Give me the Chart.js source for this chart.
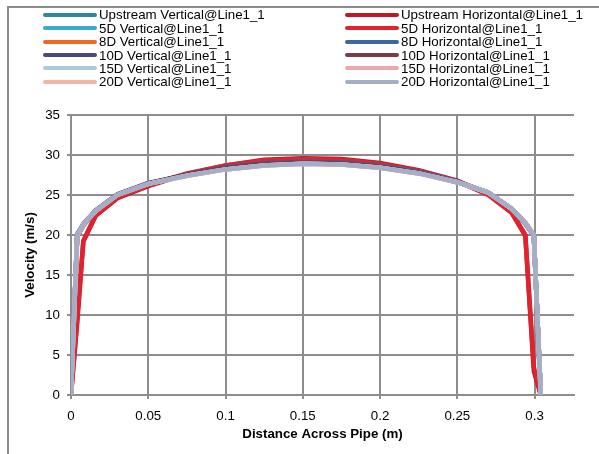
<!DOCTYPE html>
<html>
<head>
<meta charset="utf-8">
<script src="https://cdn.jsdelivr.net/npm/chart.js@4.4.1/dist/chart.umd.min.js"></script>
<style>
  html, body { margin: 0; padding: 0; background: #fff; overflow: hidden; }
  body { width: 599px; height: 454px; position: relative; font-family: Arial, "Liberation Sans", sans-serif; }
  #frame { position: absolute; left: 7px; top: 6px; width: 700px; height: 600px;
           border-top: 2px solid #8c8c8c; border-left: 2px solid #8c8c8c; }
  #chart { position: absolute; left: 0; top: 0; }
  #legend { position: absolute; left: 0; top: 0; width: 599px; height: 100px; }
  .item { position: absolute; height: 13.4px; line-height: 13.4px; font-size: 13.3px; color: #000; white-space: nowrap; }
  .item span.swatch { display: inline-block; width: 54px; height: 4px; border-radius: 2px; vertical-align: middle; margin-right: 2px; position: relative; top: -1px; }
</style>
</head>
<body>
<div id="frame"></div>
<canvas id="chart" width="599" height="454"></canvas>
<div id="legend"></div>
<script>
// distance across pipe (m), shared by all series
const distance = [0, 0.004, 0.008, 0.016, 0.03, 0.05, 0.075, 0.1, 0.125, 0.15, 0.175, 0.2, 0.225, 0.25, 0.27, 0.285, 0.294, 0.2995, 0.304];

// velocity (m/s) per probe line
const upstreamVertical   = [0, 19.9, 21.3, 23.0, 25.0, 26.4, 27.5, 28.3, 28.8, 29.0, 28.9, 28.5, 27.8, 26.6, 25.3, 23.3, 21.5, 20.0, 0];
const upstreamHorizontal = [0, 9.0, 19.2, 22.4, 24.6, 26.1, 27.6, 28.7, 29.4, 29.6, 29.5, 29.0, 28.1, 26.8, 25.1, 22.9, 20.0, 3.0, 0];
const vertical5D    = [0, 19.9, 21.3, 23.0, 25.0, 26.4, 27.5, 28.3, 28.8, 29.0, 28.9, 28.5, 27.8, 26.6, 25.3, 23.3, 21.5, 20.0, 0];
const horizontal5D  = [0, 9.5, 19.3, 22.5, 24.7, 26.2, 27.7, 28.7, 29.3, 29.5, 29.4, 28.9, 28.0, 26.7, 25.0, 22.8, 19.9, 3.5, 0];
const vertical8D    = [0, 19.9, 21.3, 23.0, 25.0, 26.4, 27.5, 28.3, 28.8, 29.0, 28.9, 28.5, 27.8, 26.6, 25.3, 23.3, 21.5, 20.0, 0];
const horizontal8D  = [0, 19.8, 21.2, 23.0, 25.0, 26.4, 27.6, 28.5, 29.0, 29.2, 29.1, 28.7, 27.9, 26.7, 25.3, 23.3, 21.4, 19.9, 0];
const vertical10D   = [0, 20.1, 21.4, 23.1, 25.1, 26.5, 27.5, 28.3, 28.8, 29.0, 28.9, 28.5, 27.8, 26.6, 25.3, 23.3, 21.5, 20.0, 0];
const horizontal10D = [0, 19.8, 21.2, 23.0, 25.0, 26.4, 27.6, 28.4, 28.9, 29.1, 29.0, 28.6, 27.8, 26.6, 25.3, 23.3, 21.4, 19.9, 0];
const vertical15D   = [0, 19.9, 21.3, 23.0, 25.0, 26.4, 27.4, 28.2, 28.7, 28.9, 28.8, 28.4, 27.7, 26.6, 25.3, 23.3, 21.5, 20.0, 0];
const horizontal15D = [0, 19.9, 21.3, 23.0, 25.0, 26.4, 27.4, 28.2, 28.7, 28.9, 28.8, 28.4, 27.7, 26.6, 25.3, 23.3, 21.5, 20.0, 0];
const vertical20D   = [0, 19.9, 21.3, 23.0, 25.0, 26.4, 27.4, 28.2, 28.7, 28.9, 28.8, 28.4, 27.7, 26.6, 25.3, 23.3, 21.5, 20.0, 0];
const horizontal20D = [0, 20.0, 21.3, 23.0, 25.0, 26.4, 27.4, 28.2, 28.7, 28.9, 28.8, 28.4, 27.7, 26.6, 25.3, 23.3, 21.5, 20.0, 0];

const seriesNames = [
  'Upstream Vertical@Line1_1', 'Upstream Horizontal@Line1_1',
  '5D Vertical@Line1_1', '5D Horizontal@Line1_1',
  '8D Vertical@Line1_1', '8D Horizontal@Line1_1',
  '10D Vertical@Line1_1', '10D Horizontal@Line1_1',
  '15D Vertical@Line1_1', '15D Horizontal@Line1_1',
  '20D Vertical@Line1_1', '20D Horizontal@Line1_1'
];
const seriesValues = [
  upstreamVertical, upstreamHorizontal, vertical5D, horizontal5D,
  vertical8D, horizontal8D, vertical10D, horizontal10D,
  vertical15D, horizontal15D, vertical20D, horizontal20D
];
const seriesColors = [
  '#2e87a0', '#bf1a24', '#38acc6', '#e1232f', '#ee6a24', '#3b66a2',
  '#464b7b', '#7d3b49', '#a7cddd', '#eba7a9', '#f2b4a4', '#a3aec8'
];

const xTicks = [0, 0.05, 0.1, 0.15, 0.2, 0.25, 0.3];
const yTicks = [0, 5, 10, 15, 20, 25, 30, 35];

const gridColor = '#8d8d8d';

Chart.defaults.font.family = 'Arial, "Liberation Sans", sans-serif';
Chart.defaults.font.size = 13.3;
Chart.defaults.color = '#000';

// legend in two columns, like the spreadsheet one
const legendEl = document.getElementById('legend');
seriesNames.forEach((name, i) => {
  const item = document.createElement('div');
  item.className = 'item';
  item.style.left = (i % 2 === 0 ? 43 : 345) + 'px';
  item.style.top = (8.3 + Math.floor(i / 2) * 13.4) + 'px';
  const sw = document.createElement('span');
  sw.className = 'swatch';
  sw.style.background = seriesColors[i];
  item.appendChild(sw);
  item.appendChild(document.createTextNode(name));
  legendEl.appendChild(item);
});

const datasets = seriesNames.map((name, i) => ({
  label: name,
  data: distance.map((d, k) => ({ x: d, y: seriesValues[i][k] })),
  borderColor: seriesColors[i],
  backgroundColor: seriesColors[i],
  borderWidth: 4.5,
  pointRadius: 0,
  tension: 0,
  fill: false,
  order: seriesNames.length - i  // later series sit on top
}));

const ctx = document.getElementById('chart').getContext('2d');
new Chart(ctx, {
  type: 'line',
  data: { datasets },
  options: {
    responsive: false,
    animation: false,
    layout: { padding: { top: 115, right: 25, left: 0, bottom: 0 } },
    plugins: { legend: { display: false }, tooltip: { enabled: false } },
    scales: {
      x: {
        type: 'linear',
        min: 0,
        max: 0.3255,
        afterBuildTicks: s => { s.ticks = xTicks.map(v => ({ value: v })); },
        afterFit: s => { s.height = 59; },
        grid: { color: gridColor, lineWidth: 2, tickLength: 4 },
        border: { color: gridColor, width: 2 },
        ticks: { padding: 9, maxRotation: 0, autoSkip: false, callback: v => String(v) },
        title: { display: true, text: 'Distance Across Pipe (m)', font: { size: 13.3, weight: 'bold' }, padding: { top: 0, bottom: 12 } }
      },
      y: {
        min: 0,
        max: 35,
        afterBuildTicks: s => { s.ticks = yTicks.map(v => ({ value: v })); },
        afterFit: s => { s.width = 71; },
        grid: { color: gridColor, lineWidth: 2, tickLength: 4 },
        border: { color: gridColor, width: 2 },
        ticks: { padding: 7, autoSkip: false, callback: v => String(v) },
        title: { display: true, text: 'Velocity (m/s)', font: { size: 13.3, weight: 'bold' }, padding: { top: 22, bottom: 0 } }
      }
    }
  }
});
</script>
</body>
</html>
